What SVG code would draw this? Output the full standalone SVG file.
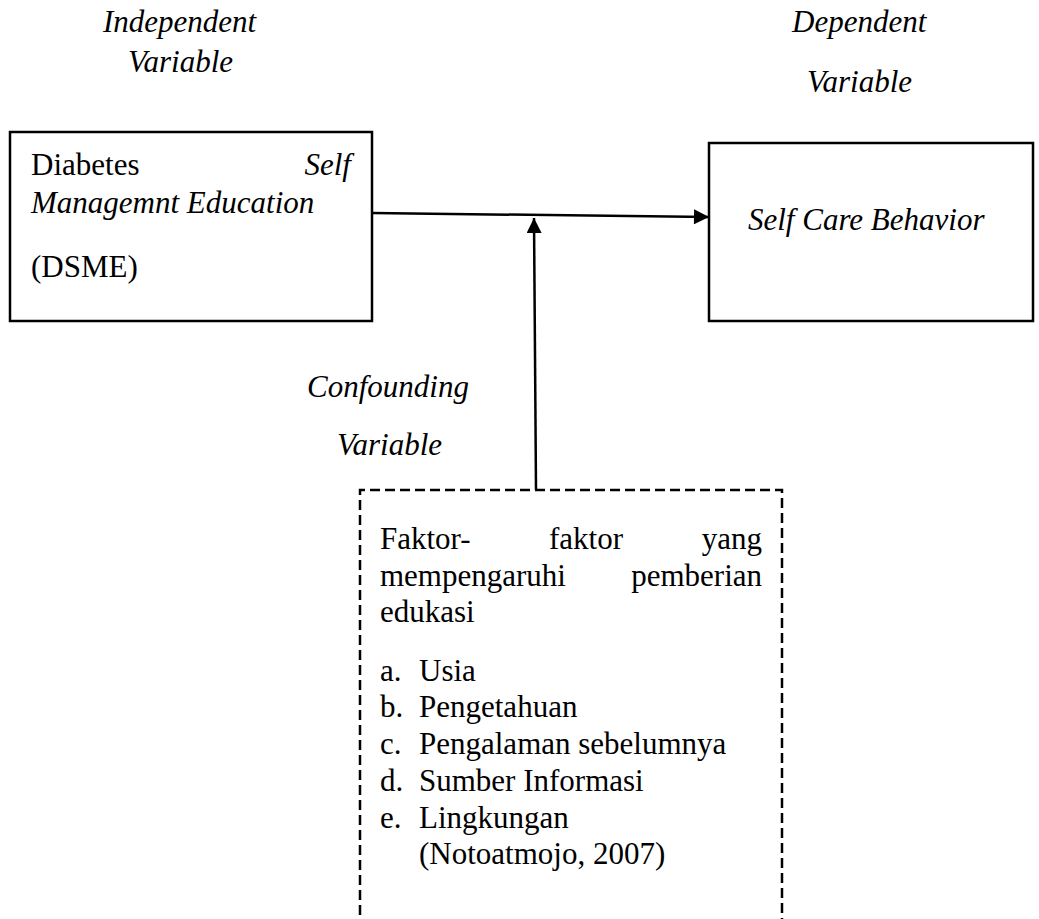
<svg xmlns="http://www.w3.org/2000/svg" width="1039" height="919" viewBox="0 0 1039 919">
<style>
text{font-family:"Liberation Serif","Times New Roman",serif;font-size:31px;fill:#000}
.i{font-style:italic}
.box{fill:#fff;stroke:#000;stroke-width:2.5}
.dash{fill:none;stroke:#000;stroke-width:2.5;stroke-dasharray:10 5}
.conn{stroke:#000;stroke-width:2.5;fill:none}
</style>
<defs>
<marker id="ah" viewBox="0 0 10 10" refX="10" refY="5" markerWidth="16" markerHeight="15" markerUnits="userSpaceOnUse" orient="auto">
<path d="M0,0 L10,5 L0,10 z" fill="#000"/>
</marker>
</defs>
<rect width="1039" height="919" fill="#fff"/>
<g id="labels">
<text class="i" x="103" y="32">Independent</text>
<text class="i" x="128" y="72">Variable</text>
<text class="i" x="792" y="32">Dependent</text>
<text class="i" x="807" y="92">Variable</text>
<text class="i" x="307" y="397">Confounding</text>
<text class="i" x="337" y="455">Variable</text>
</g>
<g id="dsme">
<rect class="box" x="10" y="132" width="362" height="189"/>
<text x="31" y="175">Diabetes</text>
<text class="i" x="351" y="175" text-anchor="end">Self</text>
<text class="i" x="31" y="213">Managemnt Education</text>
<text x="31" y="277">(DSME)</text>
</g>
<g id="selfcare">
<rect class="box" x="709" y="143" width="324" height="178"/>
<text class="i" x="748" y="230">Self Care Behavior</text>
</g>
<g id="confounding">
<path class="dash" d="M360,930 V490 H782 V930"/>
<text x="380" y="549">Faktor-</text>
<text x="549" y="549">faktor</text>
<text x="762" y="549" text-anchor="end">yang</text>
<text x="380" y="586">mempengaruhi</text>
<text x="762" y="586" text-anchor="end">pemberian</text>
<text x="380" y="622">edukasi</text>
<text x="380" y="681">a.</text><text x="419" y="681">Usia</text>
<text x="380" y="717">b.</text><text x="419" y="717">Pengetahuan</text>
<text x="380" y="754">c.</text><text x="419" y="754">Pengalaman sebelumnya</text>
<text x="380" y="791">d.</text><text x="419" y="791">Sumber Informasi</text>
<text x="380" y="828">e.</text><text x="419" y="828">Lingkungan</text>
<text x="419" y="864">(Notoatmojo, 2007)</text>
</g>
<g id="connectors">
<line class="conn" x1="372" y1="213" x2="709" y2="217" marker-end="url(#ah)"/>
<line class="conn" x1="536" y1="490" x2="534" y2="218" marker-end="url(#ah)"/>
</g>
</svg>
